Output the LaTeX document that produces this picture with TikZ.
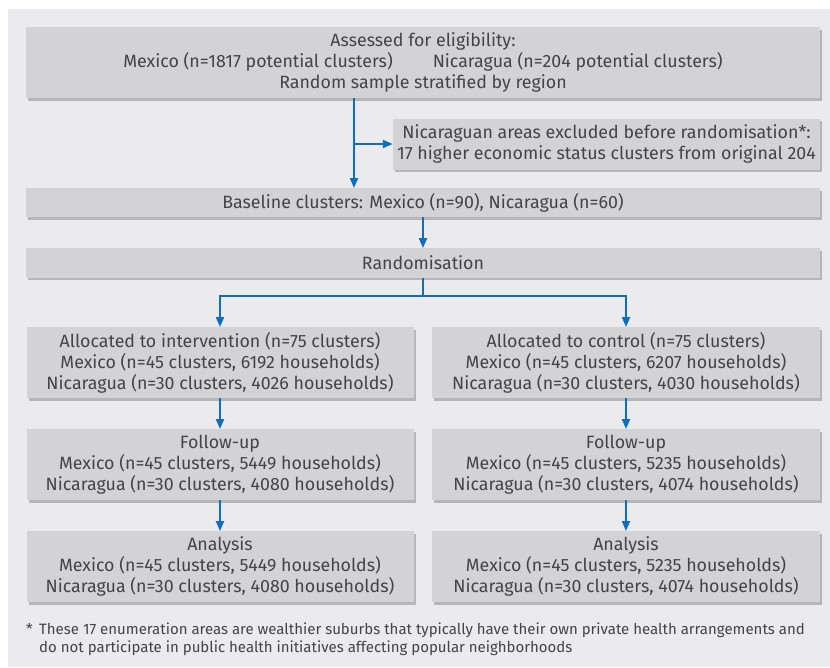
\documentclass[tikz,border=0pt]{standalone}
\usepackage{fontspec}
\setmainfont{Fira Sans}
\usetikzlibrary{arrows.meta,shadows}
\definecolor{panelbg}{RGB}{235,235,237}
\definecolor{boxgray}{RGB}{211,211,213}
\definecolor{shadowgray}{RGB}{182,182,185}
\definecolor{txtgray}{RGB}{68,68,70}
\definecolor{arrblue}{RGB}{16,110,190}
\tikzset{
  box/.style={fill=boxgray, draw=none, inner sep=0pt, align=center, text=txtgray,
    font=\fontsize{17.8}{21}\selectfont,
    drop shadow={shadow xshift=2pt, shadow yshift=-2.5pt, fill=shadowgray, opacity=1}},
  arr/.style={draw=arrblue, line width=2pt, -{Triangle[length=10pt,width=8pt]}},
  ln/.style={draw=arrblue, line width=2pt},
  foottext/.style={anchor=base west, inner sep=0pt, text=txtgray, font=\fontsize{15}{18}\selectfont}
}
\begin{document}
\begin{tikzpicture}[x=1pt,y=-1pt]
\useasboundingbox (0,0) rectangle (830,667);
\fill[white] (0,0) rectangle (830,667);
\fill[panelbg] (8,9) rectangle (830,667);

\node[box, minimum width=794pt, minimum height=71pt] (assess) at (423,62.5)
  {Assessed for eligibility:\\
   Mexico (n=1817 potential clusters)\hspace*{40pt}Nicaragua (n=204 potential clusters)\\
   Random sample stratified by region};
\node[box, minimum width=427pt, minimum height=51pt] (excl) at (606.5,144)
  {Nicaraguan areas excluded before randomisation*:\\
   17 higher economic status clusters from original 204};
\node[box, minimum width=794pt, minimum height=29pt] (base) at (423,202.75)
  {Baseline clusters: Mexico (n=90), Nicaragua (n=60)};
\node[box, minimum width=794pt, minimum height=29.5pt] (rand) at (423,263)
  {Randomisation};

\node[box, minimum width=387pt, minimum height=71pt] (int) at (220,362.75)
  {Allocated to intervention (n=75 clusters)\\
   Mexico (n=45 clusters, 6192 households)\\
   Nicaragua (n=30 clusters, 4026 households)};
\node[box, minimum width=387.5pt, minimum height=71pt] (ctrl) at (626,362.75)
  {Allocated to control (n=75 clusters)\\
   Mexico (n=45 clusters, 6207 households)\\
   Nicaragua (n=30 clusters, 4030 households)};

\node[box, minimum width=387pt, minimum height=71pt] (fu1) at (220,464.75)
  {Follow-up\\
   Mexico (n=45 clusters, 5449 households)\\
   Nicaragua (n=30 clusters, 4080 households)};
\node[box, minimum width=387.5pt, minimum height=71pt] (fu2) at (626,464.75)
  {Follow-up\\
   Mexico (n=45 clusters, 5235 households)\\
   Nicaragua (n=30 clusters, 4074 households)};

\node[box, minimum width=387pt, minimum height=71pt] (an1) at (220,566.75)
  {Analysis\\
   Mexico (n=45 clusters, 5449 households)\\
   Nicaragua (n=30 clusters, 4080 households)};
\node[box, minimum width=387.5pt, minimum height=71pt] (an2) at (626,566.75)
  {Analysis\\
   Mexico (n=45 clusters, 5235 households)\\
   Nicaragua (n=30 clusters, 4074 households)};

\node[foottext] (star) at (26,634) {*};
\node[foottext] (foot1) at (39,634)
  {These 17 enumeration areas are wealthier suburbs that typically have their own private health arrangements and};
\node[foottext] (foot2) at (39,652)
  {do not participate in public health initiatives affecting popular neighborhoods};

% connectors
\coordinate (split1) at (354,144);
\coordinate (fork) at (423,296);
\draw[ln] (assess.south -| split1) -- (split1);
\draw[arr] (split1) -- (base.north -| split1);
\draw[arr] (split1) -- (excl.west);
\draw[arr] (base.south) -- (rand.north);
\draw[ln] (rand.south) -- (fork);
\draw[arr] (fork) -| (int.north);
\draw[arr] (fork) -| (ctrl.north);
\draw[arr] (int.south) -- (fu1.north);
\draw[arr] (fu1.south) -- (an1.north);
\draw[arr] (ctrl.south) -- (fu2.north);
\draw[arr] (fu2.south) -- (an2.north);
\end{tikzpicture}
\end{document}
